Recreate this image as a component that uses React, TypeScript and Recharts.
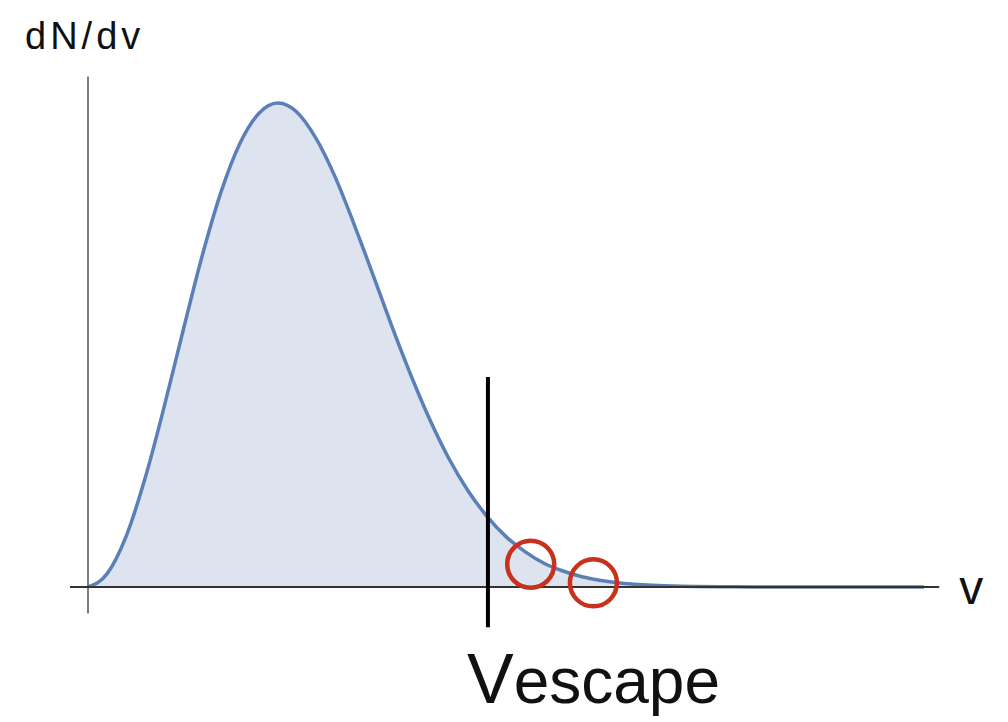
import { ComposedChart, Area, XAxis, YAxis, ReferenceLine, ReferenceDot } from "recharts";

// speed samples (v) and the distribution height (peak = 100)
const speeds = [
  0, 0.1, 0.2, 0.3, 0.4, 0.5, 0.6, 0.7, 0.8, 0.9, 1.0, 1.1, 1.2, 1.3, 1.4, 1.5,
  1.6, 1.7, 1.8, 1.9, 2.0, 2.1, 2.2, 2.3, 2.4, 2.5, 2.6, 2.7, 2.8, 2.9, 3.0,
  3.2, 3.4, 3.6, 3.8, 4.0, 4.2, 4.4,
];
const density = [
  0, 2.7, 10.4, 22.4, 37.1, 52.9, 68.3, 81.6, 91.7, 97.9, 100, 98.1, 92.7, 84.8, 75.0, 64.5,
  53.8, 43.7, 34.5, 26.5, 19.9, 14.6, 10.4, 7.3, 4.9, 3.3, 2.1, 1.35, 0.84, 0.51, 0.3,
  0.1, 0.03, 0.01, 0, 0, 0, 0,
];

const vEscape = 2.105;
const escapeSpan = [-8.3, 43.4];
const circleV = [2.33, 2.66];
const circleY = [4.7, 0.85];

const xDomain = [-0.1, 4.5];
const yDomain = [-6, 106];
const xAxisSpan = [-0.095, 4.48];
const yAxisSpan = [-5.5, 105.5];

const data = speeds.map((v, i) => ({ v, n: density[i] }));

const FONT = "'Liberation Sans', Arial, Helvetica, sans-serif";

export default function App() {
  return (
    <div style={{ position: "absolute", left: 0, top: 0, width: 1008, height: 722, background: "#fff" }}>
      <ComposedChart
        width={1008}
        height={722}
        data={data}
        margin={{ top: 74, right: 65, bottom: 106, left: 69 }}
      >
        <XAxis type="number" dataKey="v" domain={xDomain} hide allowDataOverflow />
        <YAxis type="number" domain={yDomain} hide allowDataOverflow />

        <Area
          type="monotone"
          dataKey="n"
          baseValue={0}
          stroke="#5b80b7"
          strokeWidth={3.5}
          fill="#dde3ef"
          fillOpacity={1}
          dot={false}
          activeDot={false}
          isAnimationActive={false}
        />

        {/* axes drawn as crossing lines */}
        <ReferenceLine
          segment={[{ x: 0, y: yAxisSpan[0] }, { x: 0, y: yAxisSpan[1] }]}
          stroke="#555"
          strokeWidth={1.5}
          ifOverflow="visible"
          label={({ viewBox }: any) => (
            <text x={viewBox.x - 63} y={viewBox.y - 27} fontFamily={FONT} fontSize={38} letterSpacing={4} fill="#111">
              dN/dv
            </text>
          )}
        />
        <ReferenceLine
          segment={[{ x: xAxisSpan[0], y: 0 }, { x: xAxisSpan[1], y: 0 }]}
          stroke="#333"
          strokeWidth={2}
          ifOverflow="visible"
          label={({ viewBox }: any) => (
            <text x={viewBox.x + viewBox.width + 20} y={viewBox.y + 17} fontFamily={FONT} fontSize={48} fill="#111">
              v
            </text>
          )}
        />

        <ReferenceLine
          segment={[{ x: vEscape, y: escapeSpan[0] }, { x: vEscape, y: escapeSpan[1] }]}
          stroke="#000"
          strokeWidth={4}
          ifOverflow="visible"
          label={({ viewBox }: any) => (
            <text x={viewBox.x - 21} y={viewBox.y + viewBox.height + 76} fontFamily={FONT} fill="#111">
              <tspan fontSize={70}>V</tspan>
              <tspan fontSize={64}>escape</tspan>
            </text>
          )}
        />

        {circleV.map((v, i) => (
          <ReferenceDot
            key={i}
            x={v}
            y={circleY[i]}
            r={23.5}
            fill="none"
            stroke="#c8311b"
            strokeWidth={4.5}
            ifOverflow="visible"
          />
        ))}
      </ComposedChart>
    </div>
  );
}
